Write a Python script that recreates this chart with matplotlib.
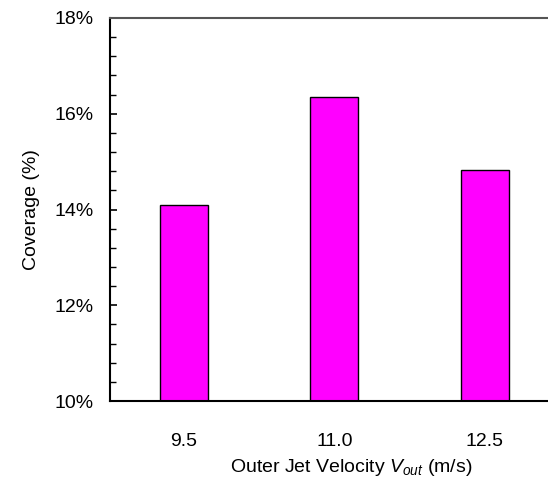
import matplotlib
matplotlib.use("Agg")
import matplotlib.pyplot as plt
from matplotlib.ticker import MultipleLocator, FuncFormatter

plt.rcParams['font.family'] = ['Liberation Sans', 'DejaVu Sans']
plt.rcParams['mathtext.fontset'] = 'custom'
plt.rcParams['mathtext.rm'] = 'Liberation Sans'
plt.rcParams['mathtext.it'] = 'Liberation Sans:italic'

categories = ["9.5", "11.0", "12.5"]
coverage = [14.09, 16.35, 14.82]

fig = plt.figure(figsize=(5.48, 4.78), dpi=100)
ax = fig.add_axes([110/548, 1 - 401/478, 1 - 110/548, (401 - 18)/478])

x = list(range(len(categories)))
ax.bar(x, coverage, width=0.32, color='#ff00ff', edgecolor='black', linewidth=1.0)

ax.set_xlim(-0.49, 2.42)
ax.set_ylim(10, 18)
ax.set_xticks(x)
ax.set_xticklabels(categories)
ax.yaxis.set_major_locator(MultipleLocator(2))
ax.yaxis.set_minor_locator(MultipleLocator(0.4))
ax.yaxis.set_major_formatter(FuncFormatter(lambda v, p: f"{v:.0f}%"))

fs = 14
ax.tick_params(axis='x', length=0, pad=23, labelsize=fs)
ax.tick_params(axis='y', which='major', direction='in', length=5, width=1.2, pad=12, labelsize=fs)
ax.tick_params(axis='y', which='minor', direction='in', length=4, width=1.0)

ax.spines['right'].set_visible(False)
ax.spines['top'].set_color('#555555')
ax.spines['top'].set_linewidth(1.5)
ax.spines['left'].set_linewidth(1.5)
ax.spines['bottom'].set_linewidth(1.5)

ax.set_ylabel("Coverage (%)", fontsize=fs)
ax.yaxis.set_label_coords(-0.16, 0.5)
ax.set_xlabel(r"Outer Jet Velocity $V_{out}$ (m/s)", fontsize=fs)
ax.xaxis.set_label_coords(0.55, -0.145)

fig.savefig("out.png", dpi=100)
